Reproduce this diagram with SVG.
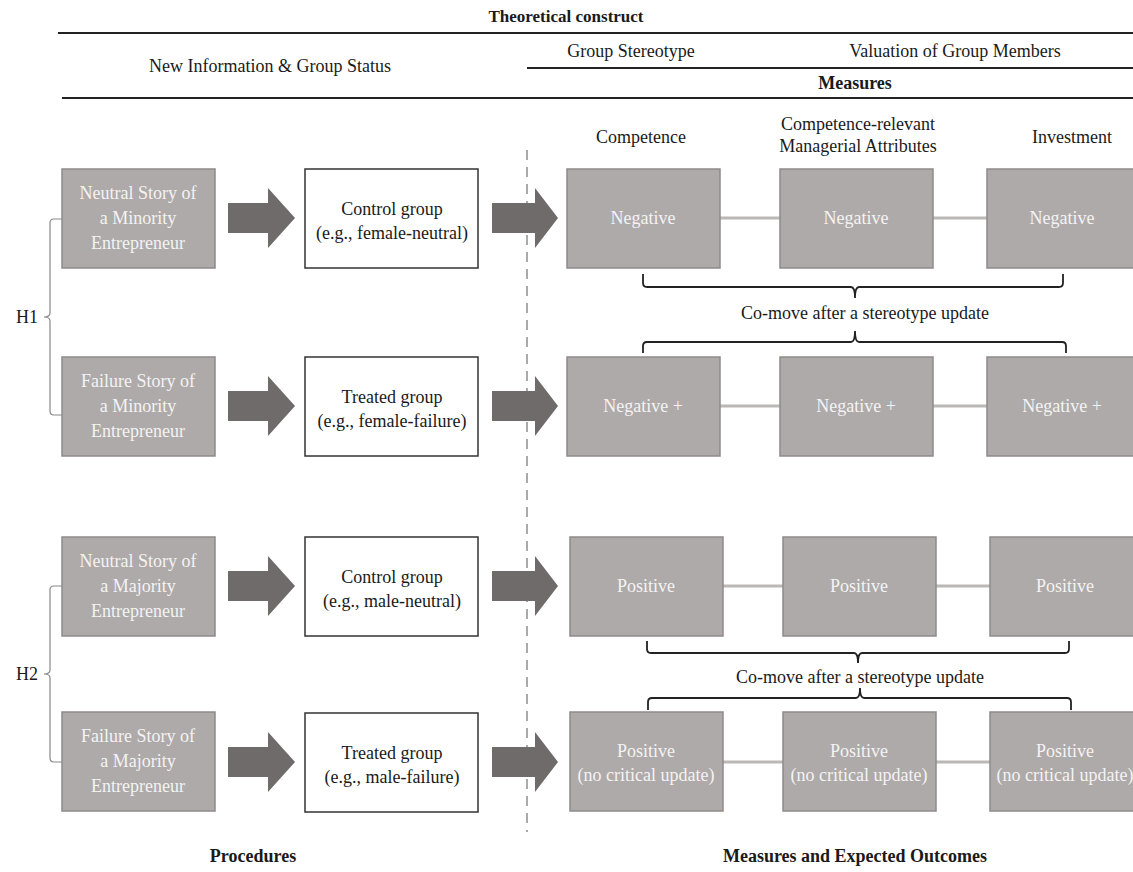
<svg xmlns="http://www.w3.org/2000/svg" width="1133" height="872" viewBox="0 0 1133 872">
<style>
text{font-family:"Liberation Serif","Times New Roman",serif;font-size:18px;fill:#1a1a1a;text-anchor:middle}
.b{font-weight:bold}
.w{fill:#f4f3f3}
.g{fill:#aeaaa9;stroke:#8e8a89;stroke-width:1.5}
.wb{fill:#fff;stroke:#333;stroke-width:1.5}
.rule{stroke:#222;stroke-width:2}
.arr{fill:#6f6b6a}
.con{stroke:#bcb8b6;stroke-width:3}
.br{fill:none;stroke:#222;stroke-width:1.8}
.hb{fill:none;stroke:#888;stroke-width:1.2}
</style>
<defs>
<path id="a1" class="arr" d="M228,-15 H268 V-30 L295,0 L268,30 V15 H228 Z"/>
<path id="a2" class="arr" d="M492,-15 H535 V-30 L558,0 L535,30 V15 H492 Z"/>
</defs>
<g id="header">
<text class="b" x="566" y="22" style="font-size:17px">Theoretical construct</text>
<line class="rule" x1="58" y1="33" x2="1133" y2="33"/>
<text x="270" y="72">New Information &amp; Group Status</text>
<text x="631" y="57">Group Stereotype</text>
<text x="955" y="57">Valuation of Group Members</text>
<line class="rule" x1="527" y1="68" x2="1133" y2="68"/>
<text class="b" x="855" y="89">Measures</text>
<line class="rule" x1="62" y1="98" x2="1133" y2="98"/>
<text x="641" y="143">Competence</text>
<text x="858" y="130">Competence-relevant</text>
<text x="858" y="152">Managerial Attributes</text>
<text x="1072" y="143">Investment</text>
</g>
<line id="divider" x1="527" y1="150" x2="527" y2="832" stroke="#aaa" stroke-width="2" stroke-dasharray="10,7"/>
<g id="n-h1"><path class="hb" d="M62,219 H54 Q50,219 50,223 V313 Q50,317 44,317 Q50,317 50,321 V411 Q50,415 54,415 H62"/><text x="27" y="323">H1</text></g>
<g id="n-h2"><path class="hb" d="M62,586 H54 Q50,586 50,590 V670 Q50,674 44,674 Q50,674 50,678 V758 Q50,762 54,762 H62"/><text x="27" y="680">H2</text></g>
<g id="connectors">
<use href="#a1" transform="translate(0,218)"/><use href="#a2" transform="translate(0,218)"/>
<use href="#a1" transform="translate(0,406)"/><use href="#a2" transform="translate(0,406)"/>
<use href="#a1" transform="translate(0,586)"/><use href="#a2" transform="translate(0,586)"/>
<use href="#a1" transform="translate(0,762)"/><use href="#a2" transform="translate(0,762)"/>
<line class="con" x1="720" y1="218" x2="780" y2="218"/><line class="con" x1="933" y1="218" x2="987" y2="218"/>
<line class="con" x1="720" y1="406" x2="780" y2="406"/><line class="con" x1="933" y1="406" x2="987" y2="406"/>
<line class="con" x1="723" y1="586" x2="783" y2="586"/><line class="con" x1="936" y1="586" x2="990" y2="586"/>
<line class="con" x1="723" y1="762" x2="783" y2="762"/><line class="con" x1="936" y1="762" x2="990" y2="762"/>
<path class="br" d="M643,274 V283 Q643,287 647,287 H851 Q855,287 855,298 Q855,287 859,287 H1059 Q1063,287 1063,283 V274"/>
<path class="br" d="M643,353 V346 Q643,342 647,342 H851 Q855,342 855,331 Q855,342 859,342 H1062 Q1066,342 1066,346 V353"/>
<path class="br" d="M647,641 V649 Q647,653 651,653 H854 Q858,653 858,663 Q858,653 862,653 H1065 Q1069,653 1069,649 V641"/>
<path class="br" d="M648,710 V702 Q648,698 652,698 H856 Q860,698 860,688 Q860,698 864,698 H1067 Q1071,698 1071,702 V710"/>
</g>
<g id="comove1"><text x="865" y="319">Co-move after a stereotype update</text></g>
<g id="comove2"><text x="860" y="683">Co-move after a stereotype update</text></g>
<g id="s1"><rect class="g" x="62" y="169" width="153" height="99"/><text class="w" x="138" y="199">Neutral Story of</text><text class="w" x="138" y="224">a Minority</text><text class="w" x="138" y="249">Entrepreneur</text></g>
<g id="s2"><rect class="g" x="62" y="357" width="153" height="99"/><text class="w" x="138" y="387">Failure Story of</text><text class="w" x="138" y="412">a Minority</text><text class="w" x="138" y="437">Entrepreneur</text></g>
<g id="s3"><rect class="g" x="62" y="537" width="153" height="99"/><text class="w" x="138" y="567">Neutral Story of</text><text class="w" x="138" y="592">a Majority</text><text class="w" x="138" y="617">Entrepreneur</text></g>
<g id="s4"><rect class="g" x="62" y="712" width="153" height="99"/><text class="w" x="138" y="742">Failure Story of</text><text class="w" x="138" y="767">a Majority</text><text class="w" x="138" y="792">Entrepreneur</text></g>
<g id="g1"><rect class="wb" x="305" y="169" width="173" height="99"/><text x="392" y="215">Control group</text><text x="392" y="239">(e.g., female-neutral)</text></g>
<g id="g2"><rect class="wb" x="305" y="357" width="173" height="99"/><text x="392" y="403">Treated group</text><text x="392" y="427">(e.g., female-failure)</text></g>
<g id="g3"><rect class="wb" x="305" y="537" width="173" height="99"/><text x="392" y="583">Control group</text><text x="392" y="607">(e.g., male-neutral)</text></g>
<g id="g4"><rect class="wb" x="305" y="713" width="173" height="99"/><text x="392" y="759">Treated group</text><text x="392" y="783">(e.g., male-failure)</text></g>
<g id="r1c1"><rect class="g" x="567" y="169" width="153" height="99"/><text class="w" x="643" y="224">Negative</text></g>
<g id="r1c2"><rect class="g" x="780" y="169" width="153" height="99"/><text class="w" x="856" y="224">Negative</text></g>
<g id="r1c3"><rect class="g" x="987" y="169" width="153" height="99"/><text class="w" x="1062" y="224">Negative</text></g>
<g id="r2c1"><rect class="g" x="567" y="357" width="153" height="99"/><text class="w" x="643" y="412">Negative +</text></g>
<g id="r2c2"><rect class="g" x="780" y="357" width="153" height="99"/><text class="w" x="856" y="412">Negative +</text></g>
<g id="r2c3"><rect class="g" x="987" y="357" width="153" height="99"/><text class="w" x="1062" y="412">Negative +</text></g>
<g id="r3c1"><rect class="g" x="570" y="537" width="153" height="99"/><text class="w" x="646" y="592">Positive</text></g>
<g id="r3c2"><rect class="g" x="783" y="537" width="153" height="99"/><text class="w" x="859" y="592">Positive</text></g>
<g id="r3c3"><rect class="g" x="990" y="537" width="153" height="99"/><text class="w" x="1065" y="592">Positive</text></g>
<g id="r4c1"><rect class="g" x="570" y="712" width="153" height="99"/><text class="w" x="646" y="757">Positive</text><text class="w" x="646" y="781">(no critical update)</text></g>
<g id="r4c2"><rect class="g" x="783" y="712" width="153" height="99"/><text class="w" x="859" y="757">Positive</text><text class="w" x="859" y="781">(no critical update)</text></g>
<g id="r4c3"><rect class="g" x="990" y="712" width="153" height="99"/><text class="w" x="1065" y="757">Positive</text><text class="w" x="1065" y="781">(no critical update)</text></g>
<g id="footer">
<text class="b" x="253" y="862">Procedures</text>
<text class="b" x="855" y="862">Measures and Expected Outcomes</text>
</g>
</svg>
